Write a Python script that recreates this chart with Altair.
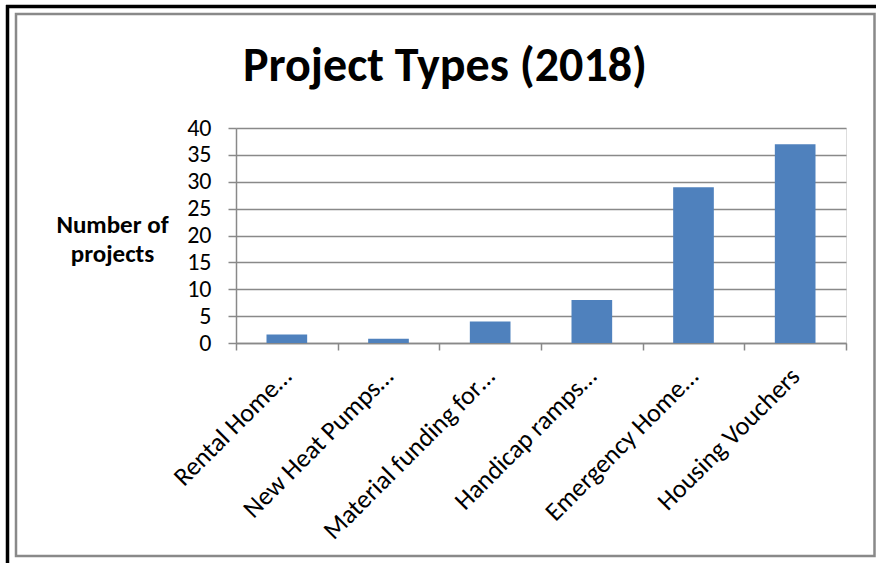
import altair as alt
import pandas as pd

# --- data ---
categories = [
    "Rental Home…",
    "New Heat Pumps…",
    "Material funding for…",
    "Handicap ramps…",
    "Emergency Home…",
    "Housing Vouchers",
]
projects = [1.6, 0.8, 4, 8, 29, 37]
y_ticks = [0, 5, 10, 15, 20, 25, 30, 35, 40]
title_text = ["Project Types (2018)"]

df = pd.DataFrame({"category": categories, "projects": projects})

FONT = "Carlito, 'Liberation Sans', Arial, sans-serif"
GRAY = "#898989"
BAR = "#4F81BD"

bars = alt.Chart(df).mark_bar(
    color=BAR, width=alt.RelativeBandSize(0.4)
).encode(
    x=alt.X(
        "category:N",
        sort=categories,
        scale=alt.Scale(paddingInner=0, paddingOuter=0),
        axis=alt.Axis(
            title=None,
            labelAngle=-45,
            labelAlign="right",
            labelBaseline="middle",
            labelFont=FONT,
            labelFontSize=26,
            labelColor="#000000",
            labelPadding=22,
            labelLimit=400,
            tickBand="extent",
            tickSize=7,
            tickColor=GRAY,
            tickWidth=1.5,
            domainColor=GRAY,
            domainWidth=1.5,
            grid=False,
        ),
    ),
    y=alt.Y(
        "projects:Q",
        scale=alt.Scale(domain=[0, 40], nice=False),
        axis=alt.Axis(
            values=y_ticks,
            title=["Number of", "projects"],
            titleAngle=0,
            titleAlign="center",
            titleBaseline="alphabetic",
            titleX=-124,
            titleY=104,
            titleFont=FONT,
            titleFontSize=25,
            titleFontWeight="bold",
            titleColor="#000000",
            titleLineHeight=29,
            labelFont=FONT,
            labelFontSize=24,
            labelColor="#000000",
            labelPadding=17,
            tickSize=8,
            tickColor=GRAY,
            tickWidth=1.5,
            domainColor=GRAY,
            domainWidth=1.5,
            grid=True,
            gridColor=GRAY,
            gridWidth=1.6,
        ),
    ),
)

one = pd.DataFrame({"k": [0]})
title_df = pd.DataFrame({"t": title_text})

title = alt.Chart(title_df).mark_text(
    font=FONT, fontSize=48, fontWeight="bold", color="#000000",
    align="center", baseline="alphabetic",
).encode(
    text="t:N",
    x=alt.value(209),
    y=alt.value(-47),
)

gray_frame = alt.Chart(one).mark_rect(
    fill=None, stroke=GRAY, strokeWidth=2.5
).encode(
    x=alt.value(-220), x2=alt.value(638.5),
    y=alt.value(-114), y2=alt.value(428),
)

black_top = alt.Chart(one).mark_rule(color="#000000", strokeWidth=3.5).encode(
    x=alt.value(-230), x2=alt.value(640),
    y=alt.value(-121.5),
)

black_left = alt.Chart(one).mark_rule(color="#000000", strokeWidth=3.5).encode(
    x=alt.value(-228.5),
    y=alt.value(-123), y2=alt.value(435),
)

chart = alt.layer(bars, title, gray_frame, black_top, black_left).properties(
    width=610,
    height=215,
    autosize=alt.AutoSizeParams(type="none"),
    padding={"left": 236, "top": 128, "right": 30, "bottom": 220},
).configure_view(
    stroke=None
).configure(
    background="#ffffff"
)

chart.save("out.html", embed_options={"renderer": "svg", "actions": False})
